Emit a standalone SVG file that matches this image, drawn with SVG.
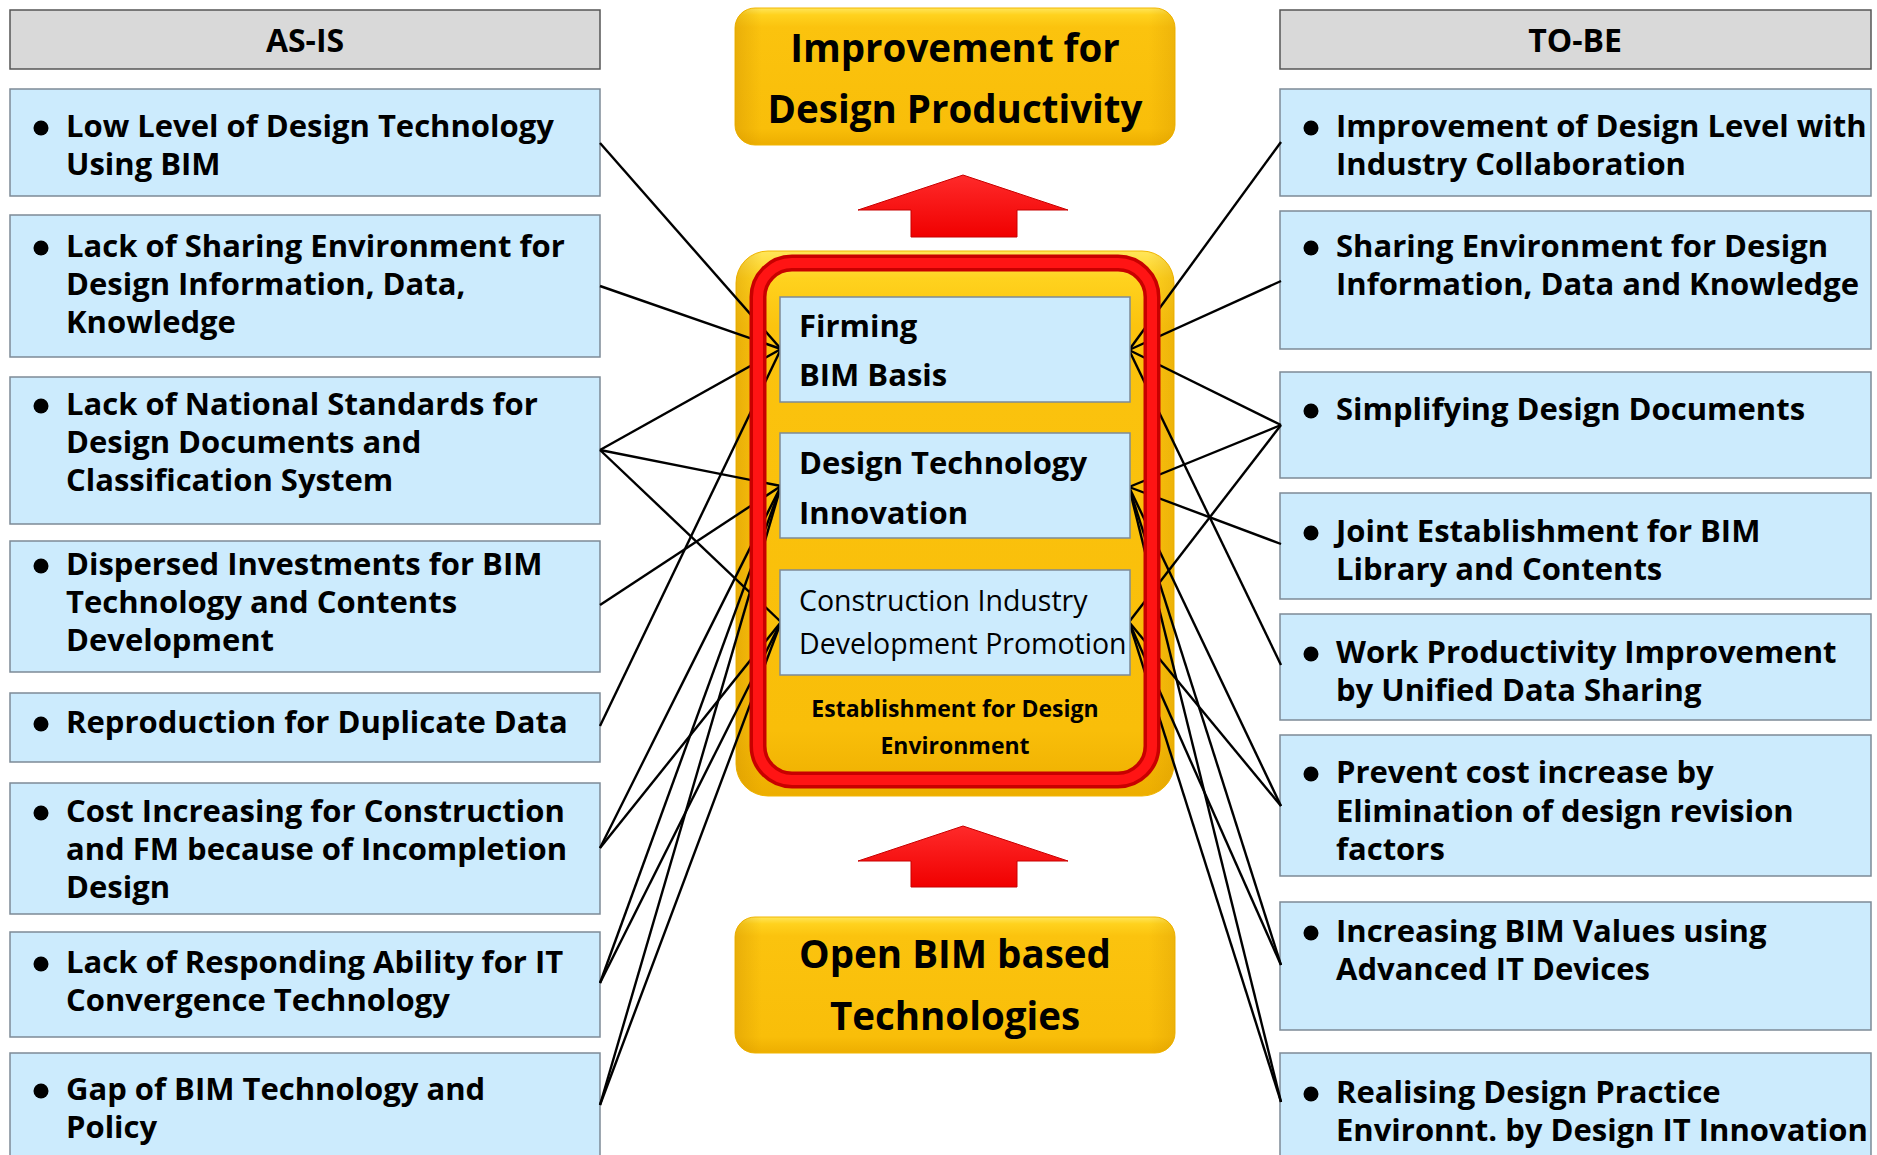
<svg xmlns="http://www.w3.org/2000/svg" width="1877" height="1155" viewBox="0 0 1877 1155">
<style>
.hdr{fill:#D9D9D9;stroke:#555;stroke-width:1.5}
.box{fill:#CCEBFD;stroke:#7D8A96;stroke-width:1.5}
.t{font-family:"Open Sans","Noto Sans","Liberation Sans",sans-serif;font-weight:700;font-size:31px;fill:#000}
.h{font-family:"Open Sans","Noto Sans","Liberation Sans",sans-serif;font-weight:700;font-size:32px;fill:#000;text-anchor:middle}
.big{font-family:"Open Sans","Noto Sans","Liberation Sans",sans-serif;font-weight:700;font-size:38.5px;fill:#000;text-anchor:middle}
.in{font-family:"Open Sans","Noto Sans","Liberation Sans",sans-serif;font-weight:700;font-size:31px;fill:#000}
.in2{font-family:"Open Sans","Noto Sans","Liberation Sans",sans-serif;font-weight:500;font-size:28.5px;fill:#000}
.est{font-family:"Open Sans","Noto Sans","Liberation Sans",sans-serif;font-weight:700;font-size:23px;fill:#000;text-anchor:middle}
.bul{fill:#000}
.yel{fill:url(#gy);stroke:#F2B600;stroke-width:1}
.edge{fill:url(#gx)}
.arrow{fill:url(#gr);stroke:#C80000;stroke-width:1}
#connectors line{stroke:#000;stroke-width:2.4}
</style>
<defs>
<linearGradient id="gy" x1="0" y1="0" x2="0" y2="1">
<stop offset="0" stop-color="#FFE65A"/>
<stop offset="0.05" stop-color="#FFD21E"/>
<stop offset="0.14" stop-color="#FBC30E"/>
<stop offset="0.88" stop-color="#F9BE09"/>
<stop offset="1" stop-color="#EDAE00"/>
</linearGradient>
<linearGradient id="gx" x1="0" y1="0" x2="1" y2="0">
<stop offset="0" stop-color="#C88A00" stop-opacity="0.35"/>
<stop offset="0.06" stop-color="#C88A00" stop-opacity="0"/>
<stop offset="0.94" stop-color="#C88A00" stop-opacity="0"/>
<stop offset="1" stop-color="#C88A00" stop-opacity="0.25"/>
</linearGradient>
<linearGradient id="gr" x1="0" y1="0" x2="0" y2="1">
<stop offset="0" stop-color="#FF2A2A"/>
<stop offset="1" stop-color="#F00000"/>
</linearGradient>
</defs>
<rect width="1877" height="1155" fill="#fff"/>

<!-- headers -->
<g id="asis-header">
<rect class="hdr" x="10" y="10" width="590" height="59"/>
<text class="h" x="305" y="52">AS-IS</text>
</g>
<g id="tobe-header">
<rect class="hdr" x="1280" y="10" width="591" height="59"/>
<text class="h" x="1575" y="52">TO-BE</text>
</g>

<!-- left column -->
<g id="asis-1">
<rect class="box" x="10" y="89" width="590" height="107"/>
<circle class="bul" cx="41" cy="128" r="7.5"/>
<text class="t" x="66" y="137">Low Level of Design Technology</text>
<text class="t" x="66" y="175">Using BIM</text>
</g>
<g id="asis-2">
<rect class="box" x="10" y="215" width="590" height="142"/>
<circle class="bul" cx="41" cy="248" r="7.5"/>
<text class="t" x="66" y="257">Lack of Sharing Environment for</text>
<text class="t" x="66" y="295">Design Information, Data,</text>
<text class="t" x="66" y="333">Knowledge</text>
</g>
<g id="asis-3">
<rect class="box" x="10" y="377" width="590" height="147"/>
<circle class="bul" cx="41" cy="406" r="7.5"/>
<text class="t" x="66" y="415">Lack of National Standards for</text>
<text class="t" x="66" y="453">Design Documents and</text>
<text class="t" x="66" y="491">Classification System</text>
</g>
<g id="asis-4">
<rect class="box" x="10" y="541" width="590" height="131"/>
<circle class="bul" cx="41" cy="566" r="7.5"/>
<text class="t" x="66" y="575">Dispersed Investments for BIM</text>
<text class="t" x="66" y="613">Technology and Contents</text>
<text class="t" x="66" y="651">Development</text>
</g>
<g id="asis-5">
<rect class="box" x="10" y="693" width="590" height="69"/>
<circle class="bul" cx="41" cy="724" r="7.5"/>
<text class="t" x="66" y="733">Reproduction for Duplicate Data</text>
</g>
<g id="asis-6">
<rect class="box" x="10" y="783" width="590" height="131"/>
<circle class="bul" cx="41" cy="813" r="7.5"/>
<text class="t" x="66" y="822">Cost Increasing for Construction</text>
<text class="t" x="66" y="860">and FM because of Incompletion</text>
<text class="t" x="66" y="898">Design</text>
</g>
<g id="asis-7">
<rect class="box" x="10" y="932" width="590" height="105"/>
<circle class="bul" cx="41" cy="964" r="7.5"/>
<text class="t" x="66" y="973">Lack of Responding Ability for IT</text>
<text class="t" x="66" y="1011">Convergence Technology</text>
</g>
<g id="asis-8">
<rect class="box" x="10" y="1053" width="590" height="120"/>
<circle class="bul" cx="41" cy="1091" r="7.5"/>
<text class="t" x="66" y="1100">Gap of BIM Technology and</text>
<text class="t" x="66" y="1138">Policy</text>
</g>

<!-- right column -->
<g id="tobe-1">
<rect class="box" x="1280" y="89" width="591" height="107"/>
<circle class="bul" cx="1311" cy="128" r="7.5"/>
<text class="t" x="1336" y="137">Improvement of Design Level with</text>
<text class="t" x="1336" y="175">Industry Collaboration</text>
</g>
<g id="tobe-2">
<rect class="box" x="1280" y="211" width="591" height="138"/>
<circle class="bul" cx="1311" cy="248" r="7.5"/>
<text class="t" x="1336" y="257">Sharing Environment for Design</text>
<text class="t" x="1336" y="295">Information, Data and Knowledge</text>
</g>
<g id="tobe-3">
<rect class="box" x="1280" y="372" width="591" height="106"/>
<circle class="bul" cx="1311" cy="411" r="7.5"/>
<text class="t" x="1336" y="420">Simplifying Design Documents</text>
</g>
<g id="tobe-4">
<rect class="box" x="1280" y="493" width="591" height="106"/>
<circle class="bul" cx="1311" cy="533" r="7.5"/>
<text class="t" x="1336" y="542">Joint Establishment for BIM</text>
<text class="t" x="1336" y="580">Library and Contents</text>
</g>
<g id="tobe-5">
<rect class="box" x="1280" y="614" width="591" height="106"/>
<circle class="bul" cx="1311" cy="654" r="7.5"/>
<text class="t" x="1336" y="663">Work Productivity Improvement</text>
<text class="t" x="1336" y="701">by Unified Data Sharing</text>
</g>
<g id="tobe-6">
<rect class="box" x="1280" y="735" width="591" height="141"/>
<circle class="bul" cx="1311" cy="774" r="7.5"/>
<text class="t" x="1336" y="783">Prevent cost increase by</text>
<text class="t" x="1336" y="822">Elimination of design revision</text>
<text class="t" x="1336" y="860">factors</text>
</g>
<g id="tobe-7">
<rect class="box" x="1280" y="902" width="591" height="128"/>
<circle class="bul" cx="1311" cy="933" r="7.5"/>
<text class="t" x="1336" y="942">Increasing BIM Values using</text>
<text class="t" x="1336" y="980">Advanced IT Devices</text>
</g>
<g id="tobe-8">
<rect class="box" x="1280" y="1053" width="591" height="120"/>
<circle class="bul" cx="1311" cy="1094" r="7.5"/>
<text class="t" x="1336" y="1103">Realising Design Practice</text>
<text class="t" x="1336" y="1141">Environnt. by Design IT Innovation</text>
</g>

<!-- center top / bottom -->
<g id="goal">
<rect class="yel" x="735" y="8" width="440" height="137" rx="20"/>
<rect class="edge" x="735" y="8" width="440" height="137" rx="20"/>
<text class="big" x="955" y="62">Improvement for</text>
<text class="big" x="955" y="123">Design Productivity</text>
</g>
<g id="arrow-top">
<polygon class="arrow" points="963,175 1068,210 1017,210 1017,237 911,237 911,210 858,210"/>
</g>
<g id="base">
<rect class="yel" x="735" y="917" width="440" height="136" rx="20"/>
<rect class="edge" x="735" y="917" width="440" height="136" rx="20"/>
<text class="big" x="955" y="968">Open BIM based</text>
<text class="big" x="955" y="1030">Technologies</text>
</g>
<g id="arrow-bottom">
<polygon class="arrow" points="963,826 1068,861 1017,861 1017,887 911,887 911,861 858,861"/>
</g>

<!-- center container background -->
<g id="environment-bg">
<rect class="yel" x="736" y="251" width="438" height="545" rx="32"/>
<rect class="edge" x="736" y="251" width="438" height="545" rx="32"/>
</g>

<!-- connectors -->
<g id="connectors">
<line x1="600" y1="143" x2="781" y2="349"/>
<line x1="600" y1="286" x2="781" y2="349"/>
<line x1="600" y1="450" x2="781" y2="349"/>
<line x1="600" y1="450" x2="781" y2="486"/>
<line x1="600" y1="450" x2="781" y2="622"/>
<line x1="600" y1="605" x2="781" y2="486"/>
<line x1="600" y1="726" x2="781" y2="349"/>
<line x1="600" y1="848" x2="781" y2="486"/>
<line x1="600" y1="848" x2="781" y2="622"/>
<line x1="600" y1="983" x2="781" y2="486"/>
<line x1="600" y1="983" x2="781" y2="622"/>
<line x1="600" y1="1105" x2="781" y2="486"/>
<line x1="600" y1="1105" x2="781" y2="622"/>
<line x1="1281" y1="142" x2="1129" y2="350"/>
<line x1="1281" y1="281" x2="1129" y2="350"/>
<line x1="1281" y1="425" x2="1129" y2="350"/>
<line x1="1281" y1="425" x2="1129" y2="487"/>
<line x1="1281" y1="425" x2="1129" y2="622"/>
<line x1="1281" y1="544" x2="1129" y2="487"/>
<line x1="1281" y1="665" x2="1129" y2="350"/>
<line x1="1281" y1="806" x2="1129" y2="487"/>
<line x1="1281" y1="806" x2="1129" y2="622"/>
<line x1="1281" y1="965" x2="1129" y2="487"/>
<line x1="1281" y1="965" x2="1129" y2="622"/>
<line x1="1281" y1="1102" x2="1129" y2="487"/>
<line x1="1281" y1="1102" x2="1129" y2="622"/>
</g>

<!-- center container frame and inner nodes -->
<g id="environment-frame">
<rect x="758" y="263" width="394" height="517" rx="34" fill="none" stroke="#C80000" stroke-width="17"/>
<rect x="758" y="263" width="394" height="517" rx="34" fill="none" stroke="#FF1414" stroke-width="10"/>
<text class="est" x="955" y="717">Establishment for Design</text>
<text class="est" x="955" y="754">Environment</text>
</g>
<g id="firming">
<rect class="box" x="780" y="297" width="350" height="105"/>
<text class="in" x="799" y="337">Firming</text>
<text class="in" x="799" y="386">BIM Basis</text>
</g>
<g id="design-tech">
<rect class="box" x="780" y="433" width="350" height="105"/>
<text class="in" x="799" y="474">Design Technology</text>
<text class="in" x="799" y="524">Innovation</text>
</g>
<g id="construction">
<rect class="box" x="780" y="570" width="350" height="105"/>
<text class="in2" x="799" y="611">Construction Industry</text>
<text class="in2" x="799" y="654">Development Promotion</text>
</g>
</svg>
